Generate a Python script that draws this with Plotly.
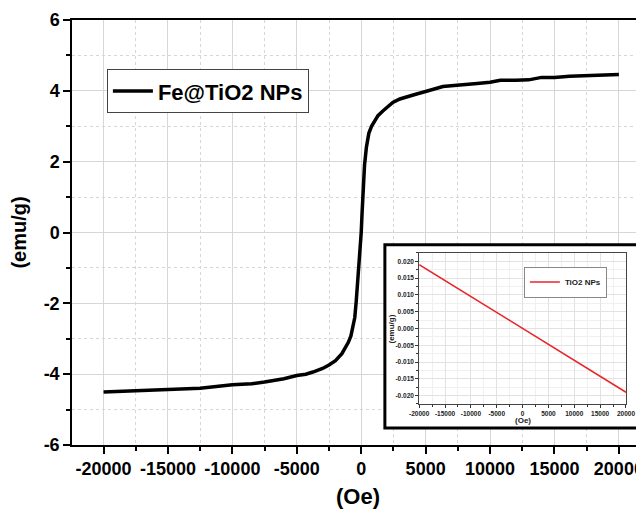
import plotly.graph_objects as go

# Main hysteresis curve (Fe@TiO2 NPs)
field_oe = [-20000, -17500, -15000, -12500, -10000, -8500, -7500, -6000, -5000, -4300,
            -3750, -3000, -2500, -2000, -1500, -1000, -800, -650, -500, -390, -280,
            -200, -100, 0, 60, 130, 256, 400, 590, 800, 1030, 1300, 1680, 2000,
            2450, 3000, 3750, 4300, 5000, 5700, 6340, 7200, 8150, 9000, 10000,
            10800, 12000, 13000, 14000, 15000, 16170, 17500, 19000, 20000]
moment_emu = [-4.50, -4.47, -4.44, -4.40, -4.30, -4.27, -4.22, -4.13, -4.04, -4.00,
              -3.94, -3.84, -3.74, -3.62, -3.42, -3.10, -2.92, -2.70, -2.40, -1.95, -1.45,
              -1.00, -0.50, 0.00, 0.50, 1.00, 1.90, 2.40, 2.80, 3.00, 3.15, 3.30, 3.43, 3.53,
              3.67, 3.77, 3.86, 3.91, 3.98, 4.05, 4.12, 4.15, 4.19, 4.21, 4.24,
              4.30, 4.30, 4.31, 4.38, 4.38, 4.41, 4.42, 4.44, 4.46]

# Inset data (TiO2 NPs)
inset_field = [-20000, -10000, 0, 10000, 20000]
inset_moment = [0.019, 0.0095, 0.0, -0.0095, -0.019]

x_ticks = [-20000, -15000, -10000, -5000, 0, 5000, 10000, 15000, 20000]
x_ticktext = ["-20000", "-15000", "-10000", "-5000", "0", "5000", "10000", "15000", "20000"]
y_ticks = [-6, -4, -2, 0, 2, 4, 6]
y_ticktext = ["-6", "-4", "-2", "0", "2", "4", "6"]
inset_yticks = [-0.020, -0.015, -0.010, -0.005, 0.0, 0.005, 0.010, 0.015, 0.020]
inset_yticktext = ["-0.020", "-0.015", "-0.010", "-0.005", "0.000",
                   "0.005", "0.010", "0.015", "0.020"]

FONT = "Liberation Sans"
GRID = "#d6d6d6"

fig = go.Figure()
fig.add_trace(go.Scatter(x=field_oe, y=moment_emu, mode="lines", name="Fe@TiO2 NPs",
                         line=dict(color="black", width=3.5), xaxis="x", yaxis="y",
                         legend="legend", showlegend=True))
# empty subplot used as white background of the inset box
fig.add_trace(go.Scatter(x=[], y=[], xaxis="x2", yaxis="y2", showlegend=False))
fig.add_trace(go.Scatter(x=inset_field, y=inset_moment, mode="lines", name="TiO2 NPs",
                         line=dict(color="#e8262b", width=1.5), xaxis="x3", yaxis="y3",
                         legend="legend2", showlegend=True))

inset_font = dict(size=6.5, family=FONT, weight="bold", color="#222")

fig.update_layout(
    width=636, height=501,
    margin=dict(l=64, r=0, t=12, b=64),
    showlegend=True,
    paper_bgcolor="white", plot_bgcolor="white",
    font=dict(family=FONT, color="black"),
    xaxis=dict(range=[-22450, 21950], domain=[0, 1], anchor="y", automargin=False,
               tickvals=x_ticks, ticktext=x_ticktext, ticks="outside", ticklen=7,
               tickwidth=1.5, tickcolor="black", showline=True, linecolor="black",
               linewidth=1.5, mirror=True, showgrid=True, gridcolor=GRID, gridwidth=1,
               zeroline=False,
               tickfont=dict(size=18, family=FONT, weight="bold"),
               minor=dict(dtick=2500, tick0=2500, ticks="outside", ticklen=4,
                          tickcolor="black", showgrid=True, gridcolor=GRID,
                          griddash="dot"),
               title=dict(text="(Oe)", font=dict(size=22, family=FONT, weight="bold"),
                          standoff=12)),
    yaxis=dict(range=[-6, 6], domain=[0, 1], anchor="x", automargin=False,
               tickvals=y_ticks, ticktext=y_ticktext, ticks="outside", ticklen=7,
               tickwidth=1.5, tickcolor="black", showline=True, linecolor="black",
               linewidth=1.5, mirror=False, showgrid=True, gridcolor=GRID, gridwidth=1,
               zeroline=False,
               tickfont=dict(size=18, family=FONT, weight="bold"),
               minor=dict(dtick=1, tick0=1, ticks="outside", ticklen=4,
                          tickcolor="black", showgrid=True, gridcolor=GRID,
                          griddash="dot"),
               title=dict(text="(emu/g)", font=dict(size=20, family=FONT, weight="bold"),
                          standoff=14)),
    xaxis2=dict(domain=[0.547, 0.990], anchor="y2", visible=False, range=[0, 1]),
    yaxis2=dict(domain=[0.040, 0.471], anchor="x2", visible=False, range=[0, 1]),
    xaxis3=dict(domain=[0.607, 0.9685], anchor="y3", range=[-20000, 20000],
                automargin=False,
                tickvals=x_ticks, ticktext=x_ticktext, ticks="outside", ticklen=3,
                tickcolor="#333", showline=True, linecolor="#444", linewidth=1,
                mirror=True, showgrid=True, gridcolor="#e2e2e2", zeroline=False,
                tickfont=inset_font,
                minor=dict(dtick=2500, tick0=2500, ticks="outside", ticklen=2,
                           showgrid=True, gridcolor="#f0f0f0")),
    yaxis3=dict(domain=[0.0965, 0.452], anchor="x3", range=[-0.0225, 0.0225],
                automargin=False,
                tickvals=inset_yticks, ticktext=inset_yticktext, ticks="outside",
                ticklen=3, tickcolor="#333", showline=True, linecolor="#444",
                linewidth=1, mirror=True, showgrid=True, gridcolor="#e2e2e2",
                zeroline=False, tickfont=inset_font,
                minor=dict(dtick=0.0025, tick0=0.0025, ticks="outside", ticklen=2,
                           showgrid=True, gridcolor="#f0f0f0")),
    legend=dict(x=0.061, y=0.884, xanchor="left", yanchor="top",
                bgcolor="white", bordercolor="#444", borderwidth=1,
                font=dict(size=22, family=FONT, weight="bold"),
                itemwidth=40, tracegroupgap=0),
    legend2=dict(x=0.79, y=0.42, xanchor="left", yanchor="top",
                 bgcolor="white", bordercolor="#888", borderwidth=1,
                 font=dict(size=8, family=FONT, weight="bold", color="#222"),
                 itemwidth=30),
    annotations=[
        dict(text="(emu/g)", xref="paper", yref="paper", x=0.5594, y=0.274,
             xanchor="center", yanchor="middle",
             textangle=-90, showarrow=False, font=dict(size=8, family=FONT,
                                                       weight="bold", color="#222")),
        dict(text="(Oe)", xref="paper", yref="paper", x=0.7876, y=0.0588,
             xanchor="center", yanchor="middle",
             showarrow=False, font=dict(size=8, family=FONT, weight="bold",
                                        color="#222")),
    ],
    shapes=[dict(type="rect", xref="paper", yref="paper",
                 x0=0.547, x1=0.990, y0=0.040, y1=0.471,
                 line=dict(color="black", width=3), fillcolor="rgba(0,0,0,0)",
                 layer="above")],
)

fig.write_html("out.html")
